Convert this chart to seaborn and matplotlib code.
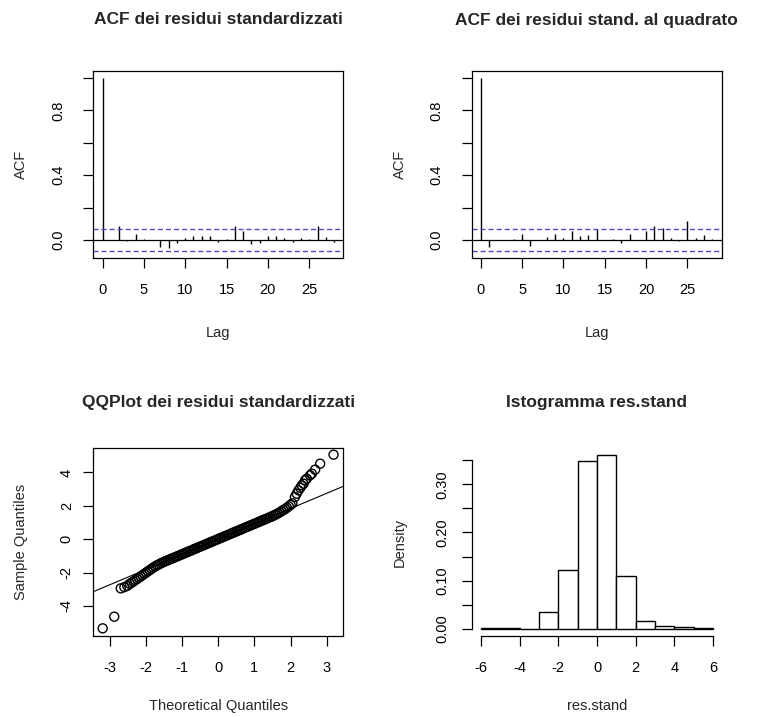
import matplotlib
matplotlib.use('Agg')
import numpy as np
import matplotlib.pyplot as plt
import seaborn as sns

# ACF of standardized residuals and of squared standardized residuals (lag 0..28)
acf_lags = [0, 1, 2, 3, 4, 5, 6, 7, 8, 9, 10, 11, 12, 13, 14,
            15, 16, 17, 18, 19, 20, 21, 22, 23, 24, 25, 26, 27, 28]
acf_res = [1.0, 0.003, 0.087, -0.004, 0.039, 0.008, 0.002, -0.041, -0.052, -0.020,
           0.010, 0.023, 0.023, 0.023, -0.014, 0.008, 0.089, 0.058, -0.027, -0.019,
           0.023, 0.023, 0.010, -0.012, 0.015, 0.005, 0.085, 0.020, -0.010]
acf_sq = [1.0, -0.045, 0.002, -0.003, 0.008, 0.039, -0.037, 0.003, 0.021, 0.039,
          0.010, 0.054, 0.025, 0.031, 0.068, 0.002, 0.006, -0.020, 0.039, 0.003,
          0.056, 0.087, 0.076, 0.012, -0.008, 0.120, 0.015, 0.030, 0.005]
acf_ci = 0.068

# histogram of res.stand (density per unit bin)
hist_edges = [-6, -5, -4, -3, -2, -1, 0, 1, 2, 3, 4, 5, 6]
hist_density = [0.0014, 0.0014, 0.0, 0.036, 0.122, 0.349, 0.361, 0.110, 0.017, 0.007, 0.004, 0.0014]

# QQ plot points (theoretical, sample)
qq_theo = [-3.20, -2.88, -2.70, -2.60, -2.52,
           -2.45, -2.40, -2.35, -2.30, -2.25, -2.20, -2.15, -2.10, -2.05, -2.00,
           -1.95, -1.90, -1.85, -1.80, -1.75, -1.70, -1.65, -1.60, -1.55, -1.50,
           -1.45, -1.40, -1.35, -1.30, -1.25, -1.20, -1.15, -1.10, -1.05, -1.00,
           -0.95, -0.90, -0.85, -0.80, -0.75, -0.70, -0.65, -0.60, -0.55, -0.50,
           -0.45, -0.40, -0.35, -0.30, -0.25, -0.20, -0.15, -0.10, -0.05, 0.00,
           0.05, 0.10, 0.15, 0.20, 0.25, 0.30, 0.35, 0.40, 0.45, 0.50,
           0.55, 0.60, 0.65, 0.70, 0.75, 0.80, 0.85, 0.90, 0.95, 1.00,
           1.05, 1.10, 1.15, 1.20, 1.25, 1.30, 1.35, 1.40, 1.45, 1.50,
           1.55, 1.60, 1.65, 1.70, 1.75, 1.80, 1.85, 1.90, 1.95, 2.00, 2.05,
           2.12, 2.17, 2.22, 2.27, 2.31, 2.36, 2.40, 2.45, 2.54, 2.59, 2.68, 2.82, 3.19]
qq_sample = [-5.35, -4.65, -2.95, -2.88, -2.80,
             -2.68, -2.61, -2.54, -2.46, -2.39, -2.31, -2.24, -2.16, -2.08, -2.01,
             -1.93, -1.86, -1.78, -1.71, -1.64, -1.57, -1.52, -1.46, -1.41, -1.36,
             -1.31, -1.27, -1.22, -1.18, -1.13, -1.09, -1.04, -1.00, -0.95, -0.90,
             -0.86, -0.81, -0.77, -0.72, -0.68, -0.63, -0.58, -0.54, -0.49, -0.45,
             -0.40, -0.36, -0.31, -0.26, -0.22, -0.17, -0.13, -0.08, -0.04, 0.01,
             0.06, 0.10, 0.15, 0.19, 0.24, 0.28, 0.33, 0.38, 0.42, 0.47,
             0.51, 0.56, 0.60, 0.65, 0.70, 0.74, 0.79, 0.83, 0.88, 0.92,
             0.97, 1.02, 1.06, 1.11, 1.15, 1.20, 1.24, 1.29, 1.34, 1.38,
             1.44, 1.49, 1.55, 1.61, 1.68, 1.75, 1.81, 1.89, 1.97, 2.06, 2.15,
             2.53, 2.73, 2.93, 3.08, 3.23, 3.33, 3.53, 3.63, 3.83, 3.93, 4.17, 4.53, 5.07]
qq_intercept = 0.01
qq_slope = 0.914

sns.set_style('white')
plt.rcParams['font.family'] = ['Liberation Sans', 'DejaVu Sans']
plt.rcParams['axes.unicode_minus'] = False

W, H = 764, 717
fig = plt.figure(figsize=(W / 100, H / 100), dpi=100)
fig.patch.set_facecolor('white')

TICK_FS = 10.5
TITLE_FS = 12.5


def px_axes(left, top, width, height):
    return fig.add_axes([left / W, 1 - (top + height) / H, width / W, height / H])


def r_axes(ax, xlabel, ylabel, title, w, h, ypad=9, xlab_off=75, title_off=51):
    ax.set_facecolor('white')
    for s in ax.spines.values():
        s.set_linewidth(0.9)
        s.set_color('black')
    ax.tick_params(direction='out', length=7, width=0.9, labelsize=TICK_FS,
                   colors='black', bottom=True, left=True)
    ax.tick_params(axis='x', pad=11)
    ax.tick_params(axis='y', labelrotation=90, pad=ypad)
    for lbl in ax.get_yticklabels():
        lbl.set_va('center')
    ax.set_xlabel(xlabel, fontsize=TICK_FS, va='center')
    ax.set_ylabel(ylabel, fontsize=TICK_FS, va='center')
    ax.xaxis.set_label_coords(0.5, -xlab_off / h)
    ax.yaxis.set_label_coords(-72 / w, 0.5)
    ax.set_title(title, fontsize=TITLE_FS, fontweight='bold',
                 y=1 + title_off / h, va='center', pad=0)


def acf_panel(ax, vals, title):
    ax.vlines(acf_lags, 0, vals, color='black', lw=1.0)
    ax.axhline(0, color='black', lw=0.9)
    for c in (acf_ci, -acf_ci):
        ax.axhline(c, color='#4a4ac4', lw=1.0, ls=(0, (3.6, 2.2)))
    ax.set_xlim(-1.12, 29.12)
    ax.set_ylim(-0.111, 1.043)
    ax.set_xticks([0, 5, 10, 15, 20, 25])
    ax.set_yticks([0, 0.2, 0.4, 0.6, 0.8, 1.0])
    ax.set_yticklabels(['0.0', '', '0.4', '', '0.8', ''])
    r_axes(ax, 'Lag', 'ACF', title, 250, 187, ypad=13)


# top row: ACF plots
ax1 = px_axes(93.3, 71, 250, 187)
acf_panel(ax1, acf_res, 'ACF dei residui standardizzati')

ax2 = px_axes(471.5, 71, 250, 187)
acf_panel(ax2, acf_sq, 'ACF dei residui stand. al quadrato')

# bottom left: QQ plot
ax3 = px_axes(93.3, 448, 250, 188)
sns.scatterplot(x=qq_theo, y=qq_sample, ax=ax3, marker='o', s=42,
                facecolor='none', edgecolor='black', linewidth=1.0)
ax3.axline((0, qq_intercept), slope=qq_slope, color='black', lw=0.8)
ax3.set_xlim(-3.46, 3.46)
ax3.set_ylim(-5.81, 5.47)
ax3.set_xticks([-3, -2, -1, 0, 1, 2, 3])
ax3.set_yticks([-4, -2, 0, 2, 4])
r_axes(ax3, 'Theoretical Quantiles', 'Sample Quantiles',
       'QQPlot dei residui standardizzati', 250, 188, ypad=7, xlab_off=70, title_off=46)

# bottom right: histogram
ax4 = px_axes(471.5, 448, 251, 188)
bin_mids = [e + 0.5 for e in hist_edges[:-1]]
sns.histplot(x=bin_mids, weights=hist_density, bins=hist_edges, stat='count',
             color='white', edgecolor='black', linewidth=1.0, alpha=1, ax=ax4)
ax4.set_xlim(-6.48, 6.48)
ax4.set_ylim(-0.0144, 0.375)
ax4.set_xticks([-6, -4, -2, 0, 2, 4, 6])
ax4.set_yticks([0, 0.05, 0.10, 0.15, 0.20, 0.25, 0.30, 0.35])
ax4.set_yticklabels(['0.00', '', '0.10', '', '0.20', '', '0.30', ''])
ax4.spines['top'].set_visible(False)
ax4.spines['right'].set_visible(False)
r_axes(ax4, 'res.stand', 'Density', 'Istogramma res.stand', 251, 188,
       xlab_off=70, title_off=46)
ax4.spines['bottom'].set_bounds(-6, 6)
ax4.spines['left'].set_bounds(0, 0.35)

fig.savefig('out.png', dpi=100, facecolor='white')
